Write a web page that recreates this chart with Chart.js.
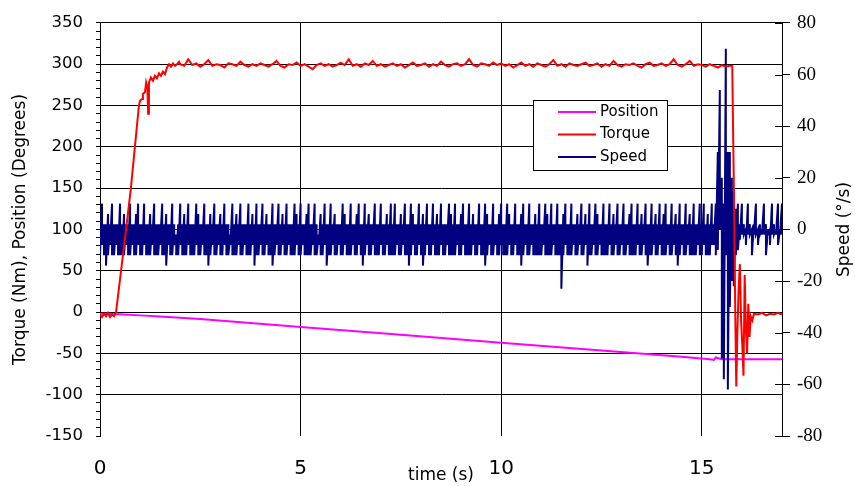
<!DOCTYPE html>
<html>
<head>
<meta charset="utf-8">
<script src="https://cdn.jsdelivr.net/npm/chart.js@4.4.1/dist/chart.umd.min.js"></script>
<style>
  html, body { margin: 0; padding: 0; background: #fff; }
  #wrap { width: 855px; height: 486px; }
</style>
</head>
<body>
<div id="wrap"><canvas id="chart"></canvas></div>
<script>
// tick labels
const timeTicks = [0, 5, 10, 15];
const leftTicks = [-150, -100, -50, 0, 50, 100, 150, 200, 250, 300, 350];
const rightTicks = [-80, -60, -40, -20, 0, 20, 40, 60, 80];

// Position (Degrees)
const positionTime = [0, 0.5, 1, 1.5, 2.5, 5, 7.5, 10, 12.5, 14.5, 15.2, 15.3, 15.35, 15.5, 17];
const positionValue = [-2, -2.5, -4, -5.5, -8.5, -18, -27.5, -37, -46.5, -54, -57, -58, -55, -57, -57];

// Torque (Nm): start-up, plateau every 0.1 s from 2.0 s, shut-down
const torqueStartTime = [0, 0.05, 0.1, 0.15, 0.2, 0.25, 0.3, 0.35, 0.4, 0.65, 0.77, 0.87, 0.97,
  1.0, 1.05, 1.07, 1.12, 1.15, 1.18, 1.2, 1.22, 1.27, 1.32, 1.37, 1.42, 1.47, 1.52, 1.57, 1.62,
  1.67, 1.72, 1.77, 1.82, 1.87, 1.92, 1.97];
const torqueStartValue = [-3, -6, -2, -5, -1, -6, -3, -5, 0, 100, 150, 200, 250,
  256, 258, 264, 266, 278, 272, 240, 278, 284, 280, 286, 283, 289, 286, 291, 288,
  296, 300, 297, 301, 298, 300, 303];
const torquePlateauStart = 2.0;
const torquePlateauStep = 0.1;
const torquePlateau = [
  300, 298, 306, 299, 301, 297, 300, 305, 298, 300,
  299, 296, 301, 300, 298, 303, 299, 297, 300, 298,
  301, 299, 297, 300, 304, 298, 296, 300, 299, 302,
  298, 300, 297, 294, 299, 301, 298, 300, 297, 299,
  302, 299, 306, 298, 300, 297, 301, 299, 304, 298,
  300, 297, 299, 301, 298, 300, 296, 299, 302, 298,
  299, 301, 297, 300, 298, 303, 299, 297, 300, 301,
  298, 300, 306, 299, 297, 301, 300, 298, 302, 299,
  301, 298, 300, 296, 299, 302, 298, 300, 297, 301,
  299, 297, 300, 305, 298, 300, 297, 301, 299, 298,
  300, 302, 298, 299, 301, 297, 300, 298, 304, 299,
  297, 300, 299, 301, 298, 296, 300, 302, 298, 299,
  301, 298, 300, 306, 299, 297, 300, 304, 298, 300,
  299, 297, 300, 298, 296, 299, 297, 298
];
const torqueEndTime = [15.76, 15.8, 15.84, 15.86, 15.89, 15.92, 15.95, 15.98, 16.01, 16.04,
  16.07, 16.1, 16.13, 16.16, 16.19, 16.22, 16.26, 16.3, 16.4, 16.5, 16.6, 16.7, 16.8, 16.9, 17];
const torqueEndValue = [298, 150, -20, -90, -20, 30, 58, -10, -40, -77,
  45, -20, -50, 10, -30, -5, -10, -2, -3, -1, -4, -2, -3, -1, -3];

// Speed (°/s): highest and lowest reading in each 0.05 s slot from 0 s
const speedStep = 0.05;
const speedHigh = [
  2, 10, 2, 2, 6, 2, 10, 2, 2, 2, 10, 2, 6, 2, 2, 10, 2, 2, 6, 10,
  2, 2, 10, 2, 2, 6, 2, 10, 2, 2, 2, 10, 2, 6, 2, 2, 10, 2, -2, 2,
  10, 2, 6, 2, 10, 2, 2, 2, 10, 6, 2, 2, 10, 2, 2, 6, 2, 10, 2, 2,
  6, 2, 10, 2, 2, -2, 10, 2, 6, 2, 10, 2, 2, 2, 10, 2, 6, 2, 10, 2,
  2, 10, 2, 6, 2, 2, 10, 2, 2, 10, 2, 6, 2, 10, 2, 2, 2, 10, 6, 2,
  10, 2, 2, 6, 10, 2, 2, 10, 2, -2, 6, 2, 10, 2, 2, 10, 2, 6, 2, 2,
  2, 10, 6, 2, 2, 10, 2, 2, 6, 10, 2, 2, 10, 2, 6, 2, 2, 10, 2, 2,
  10, 2, 2, 6, 2, 10, 2, 10, 2, 2, 6, 2, 10, 2, 2, 10, 6, 2, 2, 10,
  2, 6, 2, 10, 2, 2, 10, 2, 6, 2, 10, 2, 2, 2, 10, 6, 2, 10, 2, 2,
  6, 10, 2, 2, 10, 2, 6, 2, 2, 10, 2, 2, 10, 6, 2, 2, 10, 2, 2, 6,
  10, 2, 2, 10, 6, 2, 2, 10, 2, 2, 6, 10, 2, 2, 10, 2, 2, 6, 2, 10,
  2, 2, 10, 6, 2, 10, 2, 2, 10, 2, 2, 6, 10, 2, 2, 10, 2, 2, 6, 2,
  10, 2, 6, 2, 10, 2, 2, 10, 6, 2, 2, 10, 2, 2, 10, 2, 6, 2, 10, 2,
  2, 10, 2, 2, 6, 10, 2, 2, 10, 2, 6, 2, 10, 2, 2, 10, 2, 6, 2, 10,
  2, 6, 10, 2, 2, 10, 2, 6, 2, 10, 2, 2, 10, 2, 6, 2, 10, 2, 2, 10,
  2, 10, 2, 6, 2, 10,
  2, 10, 30, 54, 20, 10, 70, 30, 30, 20, 15, 8, 10, 2, 10,
  2, 0, 10, 2, 0, 2, 10, 0, 2, 0, 10, 2, 0, 0, 10, 2, 0, 10, 0, 10
];
const speedLow = [
  -10, -6, -10, -14, -10, -6, -10, -10, -6, -10, -10, -10, -10, -6, -10, -10, -6, -10, -10, -6,
  -10, -10, -6, -10, -10, -10, -6, -10, -10, -10, -6, -10, -10, -14, -6, -10, -10, -6, -10, -10,
  -6, -10, -10, -10, -6, -10, -10, -10, -6, -10, -10, -6, -10, -10, -14, -10, -6, -10, -10, -6,
  -10, -10, -6, -10, -10, -6, -10, -10, -10, -6, -10, -10, -6, -10, -10, -10, -6, -14, -10, -10,
  -6, -10, -10, -6, -10, -10, -14, -10, -6, -10, -10, -6, -10, -10, -6, -10, -10, -10, -6, -10,
  -10, -6, -10, -10, -10, -10, -6, -10, -10, -6, -10, -10, -6, -14, -10, -10, -6, -10, -10, -6,
  -10, -10, -6, -10, -10, -10, -6, -10, -10, -6, -10, -14, -10, -6, -10, -10, -6, -10, -10, -10,
  -6, -10, -10, -6, -10, -10, -10, -10, -6, -10, -10, -6, -10, -10, -14, -10, -6, -10, -10, -6,
  -10, -14, -10, -6, -10, -10, -6, -10, -10, -10, -6, -10, -10, -6, -10, -10, -10, -10, -6, -10,
  -10, -6, -10, -10, -10, -10, -6, -10, -10, -6, -10, -10, -14, -10, -6, -10, -10, -6, -10, -10,
  -6, -10, -10, -10, -6, -10, -10, -6, -10, -10, -14, -10, -6, -10, -10, -6, -10, -10, -10, -10,
  -10, -6, -10, -10, -10, -10, -6, -10, -10, -10, -23, -10, -6, -10, -10, -10, -6, -10, -10, -6,
  -10, -10, -6, -14, -10, -10, -6, -10, -10, -6, -10, -10, -10, -10, -6, -10, -10, -6, -10, -10,
  -6, -10, -10, -6, -10, -10, -10, -10, -6, -10, -10, -6, -10, -14, -10, -10, -6, -10, -10, -6,
  -10, -10, -10, -6, -10, -10, -6, -10, -14, -10, -6, -10, -10, -6, -10, -10, -10, -10, -6, -10,
  -10, -6, -10, -10, -10, -6,
  -6, -10, -8, 0, -50, -58, -10, -62, -30, -20, -22, -10, -8, -4, -2,
  -2, -6, -2, -2, -10, -2, -2, -6, -2, -2, -2, -10, -2, -6, -2, -2, -2, -6, -2, -2
];

const FONT = 'DejaVu Sans';

const positionData = positionTime.map((t, i) => ({ x: t, y: positionValue[i] }));
const torqueData = torqueStartTime.map((t, i) => ({ x: t, y: torqueStartValue[i] }))
  .concat(torquePlateau.map((v, i) => ({ x: +(torquePlateauStart + i * torquePlateauStep).toFixed(2), y: v })))
  .concat(torqueEndTime.map((t, i) => ({ x: t, y: torqueEndValue[i] })));
const speedData = [];
speedHigh.forEach((hi, i) => {
  const t = +(i * speedStep).toFixed(2);
  speedData.push({ x: t, y: hi }, { x: t, y: speedLow[i] });
});

// legend drawn inside the plot, as in the original
const boxLegend = {
  id: 'boxLegend',
  afterDatasetsDraw(chart) {
    const ctx = chart.ctx;
    const x = 533, y = 100, w = 134, h = 70;
    ctx.save();
    ctx.fillStyle = '#fff';
    ctx.fillRect(x, y, w, h);
    ctx.strokeStyle = '#000';
    ctx.lineWidth = 1;
    ctx.strokeRect(x + 0.5, y + 0.5, w, h);
    const order = [0, 1, 2].map(i => chart.data.datasets.find(d => d.legendIndex === i));
    ctx.font = '15px "' + FONT + '"';
    ctx.textBaseline = 'middle';
    ctx.fillStyle = '#000';
    order.forEach((ds, i) => {
      const ly = y + 12 + i * 22.5;
      ctx.strokeStyle = ds.borderColor;
      ctx.lineWidth = 2;
      ctx.beginPath();
      ctx.moveTo(558, ly);
      ctx.lineTo(596, ly);
      ctx.stroke();
      ctx.fillText(ds.label, 600, ly);
    });
    ctx.restore();
  }
};

// right axis: ticks cross the axis line, title reads bottom to top
const rightAxisExtras = {
  id: 'rightAxisExtras',
  afterDraw(chart) {
    const ctx = chart.ctx;
    const s = chart.scales.y2;
    const area = chart.chartArea;
    ctx.save();
    ctx.strokeStyle = '#000';
    ctx.lineWidth = 1;
    rightTicks.forEach(v => {
      const py = Math.round(s.getPixelForValue(v)) + 0.5;
      ctx.beginPath();
      ctx.moveTo(s.left - 7, py);
      ctx.lineTo(s.left, py);
      ctx.stroke();
    });
    ctx.translate(845, (area.top + area.bottom) / 2);
    ctx.rotate(-Math.PI / 2);
    ctx.font = '17px "' + FONT + '"';
    ctx.fillStyle = '#000';
    ctx.textAlign = 'center';
    ctx.textBaseline = 'middle';
    ctx.fillText('Speed (°/s)', 0, 0);
    ctx.restore();
  }
};

new Chart(document.getElementById('chart'), {
  type: 'line',
  data: {
    datasets: [
      { label: 'Torque', legendIndex: 1, data: torqueData, borderColor: '#ff0000', borderWidth: 2, order: 0, yAxisID: 'y' },
      { label: 'Speed', legendIndex: 2, data: speedData, borderColor: '#000080', borderWidth: 2, order: 1, yAxisID: 'y2' },
      { label: 'Position', legendIndex: 0, data: positionData, borderColor: '#ff00ff', borderWidth: 2, order: 2, yAxisID: 'y' }
    ]
  },
  options: {
    responsive: true,
    maintainAspectRatio: false,
    devicePixelRatio: 1,
    animation: false,
    events: [],
    elements: { point: { radius: 0 }, line: { tension: 0 } },
    layout: { padding: { top: 18, right: 0, bottom: 0, left: 0 } },
    plugins: { legend: { display: false }, tooltip: { enabled: false } },
    scales: {
      x: {
        type: 'linear',
        min: 0,
        max: 17,
        afterBuildTicks: s => { s.ticks = timeTicks.map(v => ({ value: v })); },
        afterFit: s => { s.height = 50; },
        grid: { color: '#000', drawTicks: false },
        border: { display: false },
        ticks: { font: { family: FONT, size: 20 }, color: '#000', padding: 21, maxRotation: 0, autoSkip: false },
        title: { display: true, text: 'time (s)', font: { family: FONT, size: 17 }, color: '#000', padding: { top: 0, bottom: 0 } }
      },
      y: {
        position: 'left',
        min: -150,
        max: 350,
        afterBuildTicks: s => {
          const t = [];
          for (let v = -150; v <= 350; v += 10) t.push({ value: v });
          s.ticks = t;
        },
        afterFit: s => { s.width = 100; },
        grid: {
          color: c => (c.tick && c.tick.value % 50 === 0 && c.tick.value !== -150) ? '#000' : 'rgba(0,0,0,0)',
          tickColor: '#000',
          tickLength: 4
        },
        border: { display: true, color: '#000' },
        ticks: {
          autoSkip: false,
          callback: v => leftTicks.includes(v) ? String(v) : '',
          font: { family: FONT, size: 16.5 },
          color: '#000',
          padding: 13
        },
        title: { display: true, text: 'Torque (Nm), Position (Degrees)', font: { family: FONT, size: 17 }, color: '#000', padding: { top: 10, bottom: 0 } }
      },
      y2: {
        position: 'right',
        min: -80,
        max: 80,
        afterBuildTicks: s => { s.ticks = rightTicks.map(v => ({ value: v })); },
        afterFit: s => { s.width = 73; },
        grid: { drawOnChartArea: false, tickColor: '#000', tickLength: 8 },
        border: { display: true, color: '#000' },
        ticks: { autoSkip: false, font: { family: 'Liberation Serif', size: 19 }, color: '#000', padding: 7 }
      }
    }
  },
  plugins: [boxLegend, rightAxisExtras]
});
</script>
</body>
</html>
